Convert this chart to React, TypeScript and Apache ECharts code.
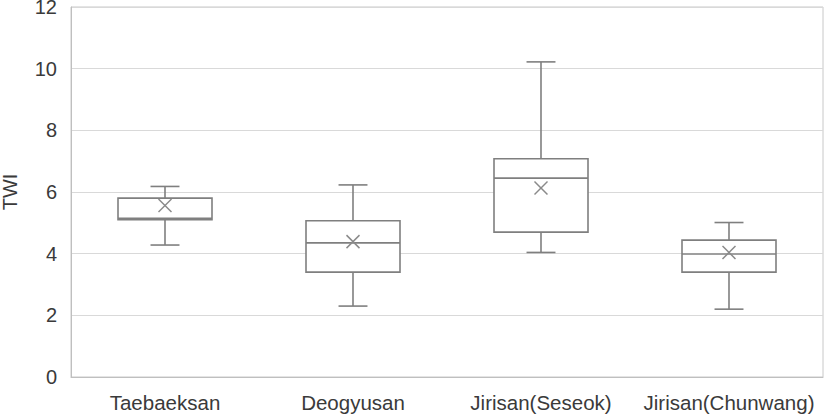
import React, { useEffect, useRef } from "react";
import * as echarts from "echarts";

const categories = ["Taebaeksan", "Deogyusan", "Jirisan(Seseok)", "Jirisan(Chunwang)"];
const mins = [4.28, 2.3, 4.04, 2.2];
const q1s = [5.1, 3.4, 4.7, 3.4];
const medians = [5.15, 4.35, 6.45, 3.99];
const q3s = [5.8, 5.07, 7.08, 4.44];
const maxs = [6.18, 6.23, 10.22, 5.01];
const means = [5.56, 4.39, 6.13, 4.04];
const yTicks = { min: 0, max: 12, interval: 2 };
const yAxisName = "TWI";

const LINE = "#7f7f7f";
const TEXT = "#3a3a3a";
const FONT = "Liberation Sans, Arial, sans-serif";

export default function App() {
  const ref = useRef<HTMLDivElement>(null);
  useEffect(() => {
    if (!ref.current) return;
    const chart = echarts.init(ref.current, null, { renderer: "svg" });
    const data = categories.map((_, i) => [i, mins[i], q1s[i], medians[i], q3s[i], maxs[i], means[i]]);
    chart.setOption({
      animation: false,
      backgroundColor: "#ffffff",
      grid: {
        left: 71,
        right: 4,
        top: 7,
        bottom: 39,
        show: true,
        borderColor: "#c8c8c8",
        borderWidth: 1,
        containLabel: false,
        outerBoundsMode: "none",
      },
      xAxis: {
        type: "category",
        data: categories,
        axisLine: { show: true, lineStyle: { color: "#bfbfbf", width: 1 } },
        axisTick: { show: false },
        axisLabel: { color: TEXT, fontSize: 20.5, fontFamily: FONT, margin: 15, interval: 0 },
        splitLine: { show: false },
      },
      yAxis: {
        type: "value",
        min: yTicks.min,
        max: yTicks.max,
        interval: yTicks.interval,
        name: yAxisName,
        nameLocation: "middle",
        nameGap: 51,
        nameRotate: 90,
        nameTextStyle: { color: TEXT, fontSize: 20, fontFamily: FONT },
        axisLine: { show: true, lineStyle: { color: "#bfbfbf", width: 1 } },
        axisTick: { show: false },
        axisLabel: { color: TEXT, fontSize: 20, fontFamily: FONT, margin: 14, padding: [5, 0, 0, 0] },
        splitLine: { show: true, lineStyle: { color: "#d9d9d9", width: 1 } },
      },
      series: [
        {
          type: "custom",
          data,
          encode: { x: 0, y: [1, 2, 3, 4, 5, 6] },
          renderItem: (params: any, api: any) => {
            const idx = api.value(0);
            const band = api.size([1, 0])[0];
            const x = api.coord([idx, 0])[0];
            const half = band * 0.25;
            const cap = band * 0.077;
            const yMin = api.coord([idx, api.value(1)])[1];
            const yQ1 = api.coord([idx, api.value(2)])[1];
            const yMed = api.coord([idx, api.value(3)])[1];
            const yQ3 = api.coord([idx, api.value(4)])[1];
            const yMax = api.coord([idx, api.value(5)])[1];
            const yMean = api.coord([idx, api.value(6)])[1];
            const st = { stroke: LINE, lineWidth: 1.6, fill: null };
            const xs = 6.5;
            return {
              type: "group",
              children: [
                { type: "line", shape: { x1: x, y1: yQ3, x2: x, y2: yMax }, style: st },
                { type: "line", shape: { x1: x - cap, y1: yMax, x2: x + cap, y2: yMax }, style: st },
                { type: "line", shape: { x1: x, y1: yQ1, x2: x, y2: yMin }, style: st },
                { type: "line", shape: { x1: x - cap, y1: yMin, x2: x + cap, y2: yMin }, style: st },
                {
                  type: "rect",
                  shape: { x: x - half, y: yQ3, width: half * 2, height: yQ1 - yQ3 },
                  style: { stroke: LINE, lineWidth: 1.6, fill: "#ffffff" },
                },
                { type: "line", shape: { x1: x - half, y1: yMed, x2: x + half, y2: yMed }, style: st },
                { type: "line", shape: { x1: x - xs, y1: yMean - xs, x2: x + xs, y2: yMean + xs }, style: { stroke: "#8a8a8a", lineWidth: 1.5 } },
                { type: "line", shape: { x1: x - xs, y1: yMean + xs, x2: x + xs, y2: yMean - xs }, style: { stroke: "#8a8a8a", lineWidth: 1.5 } },
              ],
            };
          },
        },
      ],
    });
    return () => chart.dispose();
  }, []);
  return (
    <div
      ref={ref}
      style={{ position: "fixed", left: 0, top: 0, width: 827, height: 416, background: "#fff" }}
    />
  );
}
